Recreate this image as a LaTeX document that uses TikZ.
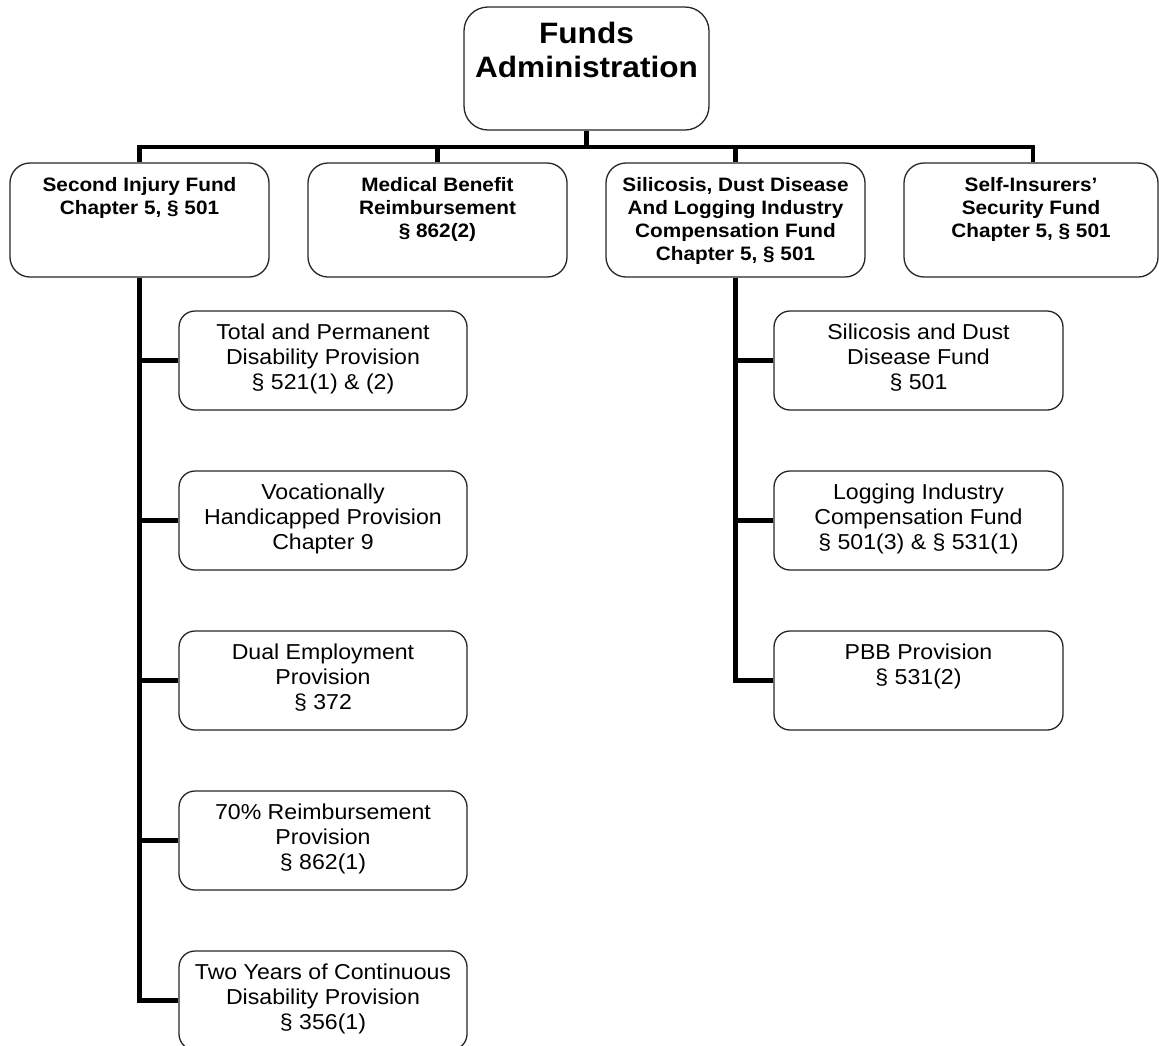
\documentclass[tikz,border=0pt]{standalone}
\usepackage{fontspec}
\newfontfamily\arialx[FakeStretch=1.07]{Liberation Sans}
\newcommand\fstrut{\rule{0pt}{1em}}
\usetikzlibrary{backgrounds}
\begin{document}
\begin{tikzpicture}[x=1pt,y=-1pt]
\tikzset{
 bx/.style={draw=black!85, line width=1.3pt, fill=white, inner sep=0pt},
 topbox/.style={bx, rounded corners=24pt, minimum width=245pt, minimum height=123pt},
 midbox/.style={bx, rounded corners=20pt, minimum width=259pt, minimum height=114pt},
 subbox/.style={bx, rounded corners=16pt, minimum width=288pt, minimum height=99pt},
 titletxt/.style={inner sep=0pt, anchor=north, align=center, font=\arialx\bfseries\fontsize{29.5}{34}\selectfont},
 midtxt/.style={inner sep=0pt, anchor=north, align=center, font=\arialx\bfseries\fontsize{19.4}{23}\selectfont},
 subtxt/.style={inner sep=0pt, anchor=north, align=center, font=\arialx\fontsize{21.6}{25}\selectfont},
 conn/.style={line width=4.5pt, black, line join=miter}
}
\useasboundingbox (0,0) rectangle (1159,1045);
\clip (0,0) rectangle (1159,1045);

% top
\node[topbox] (fa) at (586.5,68.5) {};
\node[titletxt] (fat) at (586.5,13.5) {\fstrut Funds\\Administration};

% second level
\node[midbox] (sif) at (139.5,220) {};
\node[midtxt] (sift) at (139.5,171.6) {\fstrut Second Injury Fund\\Chapter 5, § 501};
\node[midbox] (mbr) at (437.5,220) {};
\node[midtxt] (mbrt) at (437.5,171.6) {\fstrut Medical Benefit\\Reimbursement\\§ 862(2)};
\node[midbox] (sil) at (735.5,220) {};
\node[midtxt] (silt) at (735.5,171.6) {\fstrut Silicosis, Dust Disease\\And Logging Industry\\Compensation Fund\\Chapter 5, § 501};
\node[midbox, minimum width=254pt] (sisf) at (1031,220) {};
\node[midtxt] (sisft) at (1031,171.6) {\fstrut Self-Insurers’\\Security Fund\\Chapter 5, § 501};

% left children
\node[subbox] (tpd) at (323,360.5) {};
\node[subtxt] (tpdt) at (323,317.4) {\fstrut Total and Permanent\\Disability Provision\\§ 521(1) \& (2)};
\node[subbox] (vhp) at (323,520.5) {};
\node[subtxt] (vhpt) at (323,477.4) {\fstrut Vocationally\\Handicapped Provision\\Chapter 9};
\node[subbox] (dep) at (323,680.5) {};
\node[subtxt] (dept) at (323,637.4) {\fstrut Dual Employment\\Provision\\§ 372};
\node[subbox] (rp) at (323,840.5) {};
\node[subtxt] (rpt) at (323,797.4) {\fstrut 70\% Reimbursement\\Provision\\§ 862(1)};
\node[subbox] (tyc) at (323,1000.5) {};
\node[subtxt] (tyct) at (323,957.4) {\fstrut Two Years of Continuous\\Disability Provision\\§ 356(1)};

% right children
\node[subbox, minimum width=289pt] (sdd) at (918.5,360.5) {};
\node[subtxt] (sddt) at (918.5,317.4) {\fstrut Silicosis and Dust\\Disease Fund\\§ 501};
\node[subbox, minimum width=289pt] (lic) at (918.5,520.5) {};
\node[subtxt] (lict) at (918.5,477.4) {\fstrut Logging Industry\\Compensation Fund\\§ 501(3) \& § 531(1)};
\node[subbox, minimum width=289pt] (pbb) at (918.5,680.5) {};
\node[subtxt] (pbbt) at (918.5,637.4) {\fstrut PBB Provision\\§ 531(2)};

% connectors
\coordinate (barY) at (0,147);
\coordinate (sisfc) at ([xshift=2pt]sisf.north);
\begin{scope}[on background layer]
\draw[conn] (fa.south) -- (fa.south |- barY);
\draw[conn] (sif.north) -- (sif.north |- barY) -- (sisfc |- barY) -- (sisfc);
\draw[conn] (mbr.north |- barY) -- (mbr.north);
\draw[conn] (sil.north |- barY) -- (sil.north);

\draw[conn] (sif.south) |- (tyc.west);
\draw[conn] (sif.south |- tpd.west) -- (tpd.west);
\draw[conn] (sif.south |- vhp.west) -- (vhp.west);
\draw[conn] (sif.south |- dep.west) -- (dep.west);
\draw[conn] (sif.south |- rp.west) -- (rp.west);

\draw[conn] (sil.south) |- (pbb.west);
\draw[conn] (sil.south |- sdd.west) -- (sdd.west);
\draw[conn] (sil.south |- lic.west) -- (lic.west);
\end{scope}
\end{tikzpicture}
\end{document}
